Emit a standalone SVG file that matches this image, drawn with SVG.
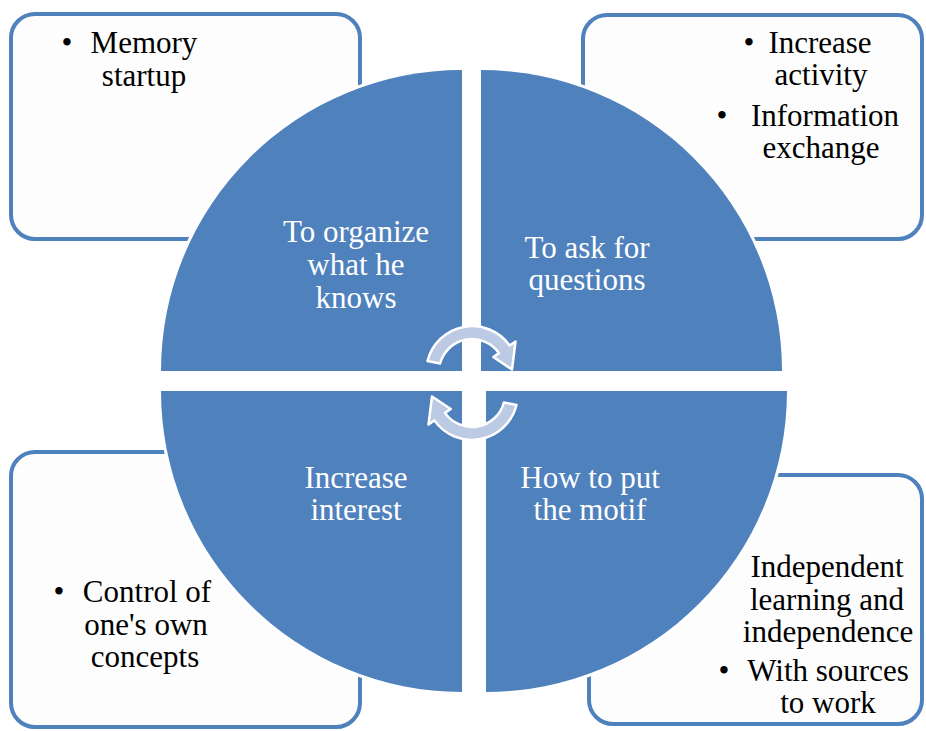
<svg xmlns="http://www.w3.org/2000/svg" width="926" height="731" viewBox="0 0 926 731" font-family="Liberation Serif, Tinos, DejaVu Serif, serif">
<style>
.box{fill:#fdfdfd;stroke:#4f81bd;stroke-width:4}
.quad{fill:#4f81bd;stroke:#ffffff;stroke-width:6;paint-order:stroke fill}
.arrow{fill:#bccae3;stroke:#ffffff;stroke-width:2.5;stroke-linejoin:round}
.t{fill:#000000;text-anchor:middle;font-size:31px;font-family:'Liberation Serif',serif}
.w{fill:#ffffff;text-anchor:middle;font-size:31px;font-family:'Liberation Serif',serif}
</style>
<rect width="926" height="731" fill="#ffffff"/>
<g id="box-tl"><rect class="box" x="11" y="14" width="349" height="225" rx="24"/>
<text class="t" y="53"><tspan x="67">•</tspan><tspan x="144">Memory</tspan></text>
<text class="t" x="144" y="86">startup</text></g>
<g id="box-tr"><rect class="box" x="583" y="15" width="339" height="224" rx="24"/>
<text class="t" y="53"><tspan x="749">•</tspan><tspan x="820">Increase</tspan></text>
<text class="t" x="821" y="85">activity</text>
<text class="t" y="126"><tspan x="722">•</tspan><tspan x="825">Information</tspan></text>
<text class="t" x="821" y="158">exchange</text></g>
<g id="box-bl"><rect class="box" x="11" y="452" width="349" height="275" rx="24"/>
<text class="t" y="602"><tspan x="59">•</tspan><tspan x="147">Control of</tspan></text>
<text class="t" x="146" y="635">one's own</text>
<text class="t" x="145" y="667">concepts</text></g>
<g id="box-br"><rect class="box" x="589" y="475" width="333" height="249" rx="24"/>
<text class="t" x="827" y="577">Independent</text>
<text class="t" x="827" y="610">learning and</text>
<text class="t" x="828" y="642">independence</text>
<text class="t" y="681"><tspan x="724">•</tspan><tspan x="828">With sources</tspan></text>
<text class="t" x="828" y="713">to work</text></g>
<g id="quad-tl"><path class="quad" d="M462,371 L161,371 A301,301 0 0 1 462,70 Z"/>
<text class="w" x="356" y="242">To organize</text>
<text class="w" x="356" y="275">what he</text>
<text class="w" x="356" y="308">knows</text></g>
<g id="quad-tr"><path class="quad" d="M481,371 L481,70 A301,301 0 0 1 782,371 Z"/>
<text class="w" x="587" y="258">To ask for</text>
<text class="w" x="587" y="290">questions</text></g>
<g id="quad-bl"><path class="quad" d="M462,391 L462,692 A301,301 0 0 1 161,391 Z"/>
<text class="w" x="356" y="488">Increase</text>
<text class="w" x="356" y="520">interest</text></g>
<g id="quad-br"><path class="quad" d="M486,391 L787,391 A301,301 0 0 1 486,692 Z"/>
<text class="w" x="590" y="488">How to put</text>
<text class="w" x="590" y="520">the motif</text></g>
<g id="connectors">
<path class="arrow" d="M427.5,361 A46,46 0 0 1 509.7,345.6 L515.5,341.5 L512,369.5 L493.3,357 L499.0,353.1 A33,33 0 0 0 440.1,363.5 Z"/>
<path class="arrow" transform="rotate(180 472 383)" d="M427.5,361 A46,46 0 0 1 509.7,345.6 L515.5,341.5 L512,369.5 L493.3,357 L499.0,353.1 A33,33 0 0 0 440.1,363.5 Z"/>
</g>
</svg>
